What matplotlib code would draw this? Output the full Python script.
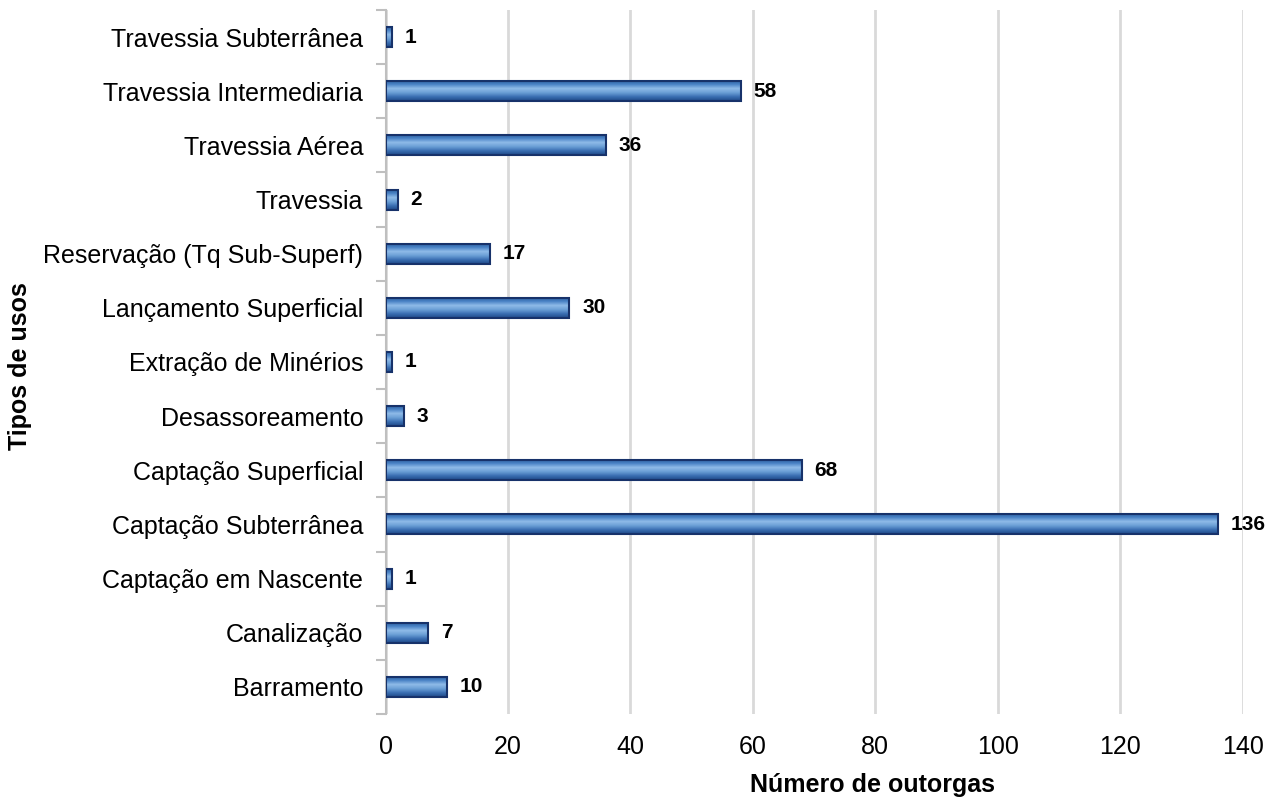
import numpy as np
import matplotlib.pyplot as plt
from matplotlib.colors import LinearSegmentedColormap
from matplotlib.patches import Rectangle

plt.rcParams['font.family'] = ['Liberation Sans', 'DejaVu Sans']

# Dados (de baixo para cima)
usos = ['Barramento', 'Canalização', 'Captação em Nascente', 'Captação Subterrânea',
        'Captação Superficial', 'Desassoreamento', 'Extração de Minérios',
        'Lançamento Superficial', 'Reservação (Tq Sub-Superf)', 'Travessia',
        'Travessia Aérea', 'Travessia Intermediaria', 'Travessia Subterrânea']
outorgas = [10, 7, 1, 136, 68, 3, 1, 30, 17, 2, 36, 58, 1]
xticks = [0, 20, 40, 60, 80, 100, 120, 140]

# Degradê das barras
grad = LinearSegmentedColormap.from_list(
    'barra', ['#2a5c9c', '#4a83c6', '#8fbbe8', '#6b9fd6', '#3a6fb2', '#1f4a88'])
edge = '#17326a'

fig = plt.figure(figsize=(12.85, 8), dpi=100)
ax = fig.add_axes([0.300, 0.1075, 0.667, 0.880])

y = np.arange(len(usos))
h = 0.37
bars = ax.barh(y, outorgas, height=h, color='none', edgecolor=edge, linewidth=1.5, zorder=3)
g = np.linspace(0, 1, 64).reshape(-1, 1)
for b, v in zip(bars, outorgas):
    x0, y0 = b.get_x(), b.get_y()
    im = ax.imshow(g, cmap=grad, aspect='auto', origin='upper',
                   extent=(x0, x0 + b.get_width(), y0, y0 + b.get_height()), zorder=2)
    im.set_clip_path(Rectangle((x0, y0), b.get_width(), b.get_height(),
                               transform=ax.transData))
    ax.text(v + 2.1, b.get_y() + h / 2, str(v), va='center', ha='left',
            fontsize=15, fontweight='bold', zorder=4)

ax.set_xlim(0, 140)
ax.set_ylim(-0.5, len(usos) - 0.5)
ax.set_xticks(xticks)
ax.set_yticks(y)
ax.set_yticklabels(usos, fontsize=18)
ax.set_yticks(np.arange(-0.5, len(usos), 1), minor=True)
ax.tick_params(axis='y', which='major', length=0, pad=16)
ax.tick_params(axis='y', which='minor', length=7, color='#bfbfbf', width=1.5)
ax.tick_params(axis='x', length=0, labelsize=18, pad=15)

ax.xaxis.grid(True, color='#d9d9d9', linewidth=2, zorder=0)
ax.set_axisbelow(True)
for s in ['top', 'right', 'bottom']:
    ax.spines[s].set_visible(False)
ax.spines['left'].set_color('#bfbfbf')
ax.spines['left'].set_linewidth(1.5)

ax.set_xlabel('Número de outorgas', fontsize=18, fontweight='bold')
ax.set_ylabel('Tipos de usos', fontsize=18, fontweight='bold')
ax.xaxis.set_label_coords(0.568, -0.084)
ax.yaxis.set_label_coords(-0.413, 0.494)

fig.savefig('out.png', dpi=100)
